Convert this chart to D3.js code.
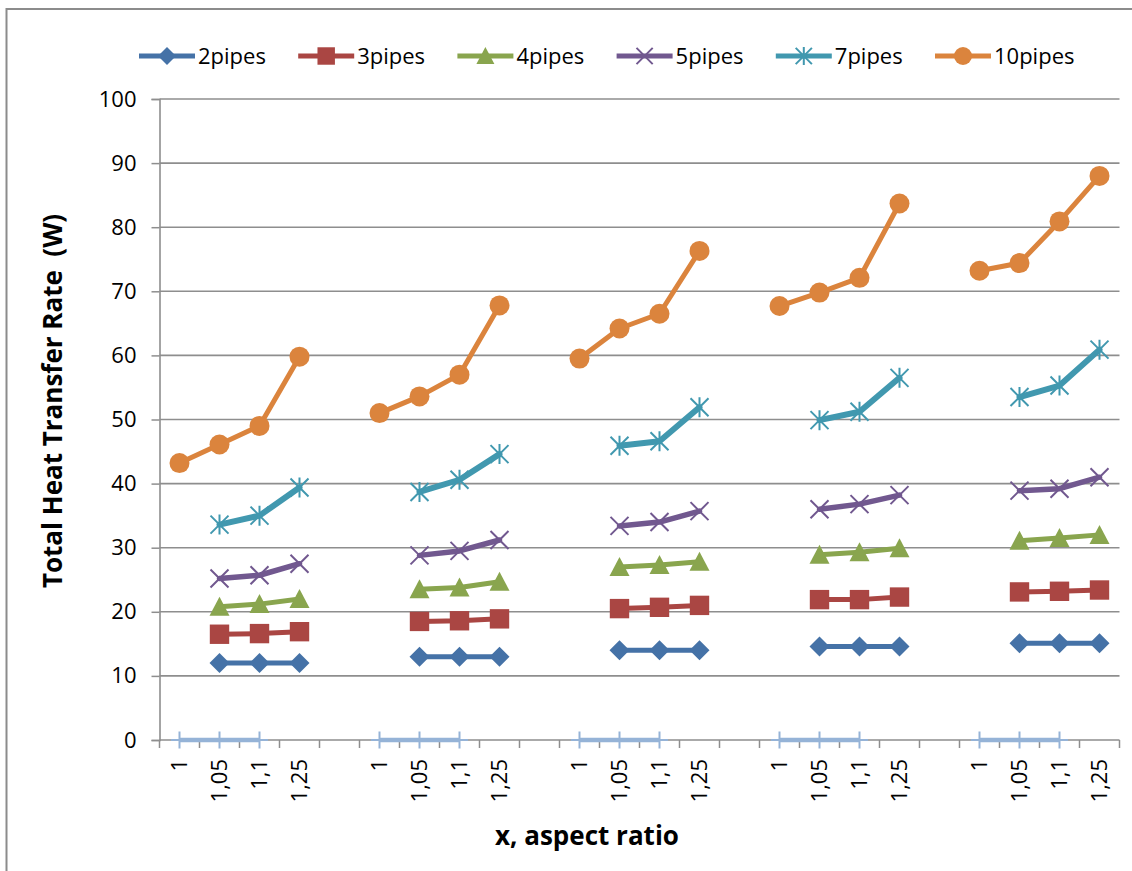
<!DOCTYPE html>
<html>
<head>
<meta charset="utf-8">
<script src="https://cdn.jsdelivr.net/npm/d3@7"></script>
<style>
  html, body { margin: 0; padding: 0; background: #fff; }
  svg { display: block; font-family: 'Open Sans', 'Noto Sans', sans-serif; }
</style>
</head>
<body>
<svg id="chart" width="1132" height="871"></svg>
<script>
// Category axis: five groups of aspect ratios separated by an empty slot
const categories = [
  "1", "1,05", "1,1", "1,25", "",
  "1", "1,05", "1,1", "1,25", "",
  "1", "1,05", "1,1", "1,25", "",
  "1", "1,05", "1,1", "1,25", "",
  "1", "1,05", "1,1", "1,25"
];

const seriesNames = ["2pipes", "3pipes", "4pipes", "5pipes", "7pipes", "10pipes"];

// Total heat transfer rate (W)
const pipes2 = [null, 12.0, 12.0, 12.0, null, null, 13.0, 13.0, 13.0, null, null, 14.0, 14.0, 14.0, null, null, 14.6, 14.6, 14.6, null, null, 15.1, 15.1, 15.1];
const pipes3 = [null, 16.5, 16.6, 16.9, null, null, 18.5, 18.6, 18.9, null, null, 20.5, 20.7, 21.0, null, null, 21.9, 21.9, 22.3, null, null, 23.1, 23.2, 23.4];
const pipes4 = [null, 20.8, 21.2, 22.0, null, null, 23.5, 23.8, 24.7, null, null, 27.0, 27.3, 27.8, null, null, 28.9, 29.3, 29.9, null, null, 31.1, 31.5, 32.0];
const pipes5 = [null, 25.2, 25.7, 27.5, null, null, 28.8, 29.5, 31.2, null, null, 33.4, 34.0, 35.7, null, null, 36.0, 36.8, 38.2, null, null, 38.9, 39.2, 41.0];
const pipes7 = [null, 33.6, 35.0, 39.4, null, null, 38.7, 40.6, 44.6, null, null, 45.9, 46.6, 51.9, null, null, 49.9, 51.2, 56.5, null, null, 53.5, 55.3, 60.9];
const pipes10 = [43.2, 46.1, 49.0, 59.8, null, 51.0, 53.6, 57.0, 67.8, null, 59.5, 64.2, 66.5, 76.3, null, 67.7, 69.8, 72.1, 83.7, null, 73.2, 74.4, 80.9, 88.0];
// Unnamed series sitting on the zero line
const extraSeries = [0, 0, 0, null, null, 0, 0, 0, null, null, 0, 0, 0, null, null, 0, 0, 0, null, null, 0, 0, 0, null];

const yTicks = [0, 10, 20, 30, 40, 50, 60, 70, 80, 90, 100];

const colors = ["#4572A7", "#AA4643", "#89A54E", "#71588F", "#4198AF", "#DB843D"];
const markerKinds = ["diamond", "square", "triangle", "x", "star", "circle"];
const lineWidths = [5, 5, 5, 5.5, 6, 5];

const svg = d3.select("#chart");
svg.append("rect").attr("width", 1132).attr("height", 871).attr("fill", "#fff");

// Outer chart frame
svg.append("rect")
  .attr("x", 6.5).attr("y", 9).attr("width", 1140).attr("height", 900)
  .attr("fill", "none").attr("stroke", "#8c8c8c").attr("stroke-width", 2);

const x = d3.scaleBand().domain(d3.range(categories.length)).range([159.5, 1119.5]);
const y = d3.scaleLinear().domain([0, 100]).range([740, 99]);
const cx = i => x(i) + x.bandwidth() / 2;

// Horizontal gridlines
svg.append("g").selectAll("line").data(yTicks.filter(v => v > 0)).join("line")
  .attr("x1", 159.5).attr("x2", 1119.5)
  .attr("y1", d => y(d)).attr("y2", d => y(d))
  .attr("stroke", "#8e8e8e").attr("stroke-width", 1.6);

// Value axis
const yAxis = svg.append("g").attr("transform", "translate(159.5,0)")
  .call(d3.axisLeft(y).tickValues(yTicks).tickSize(8).tickPadding(15).tickFormat(d3.format("d")));
yAxis.select(".domain").attr("stroke", "#8e8e8e").attr("stroke-width", 1.6);
yAxis.selectAll(".tick line").attr("stroke", "#8e8e8e").attr("stroke-width", 1.5);
yAxis.selectAll(".tick text").attr("font-size", 22).attr("fill", "#000")
  .attr("font-family", "'Open Sans', sans-serif");

// Category axis with ticks between categories
const xAxisG = svg.append("g");
xAxisG.append("line").attr("x1", 159.5).attr("x2", 1119.5).attr("y1", 740).attr("y2", 740)
  .attr("stroke", "#8e8e8e").attr("stroke-width", 1.6);
xAxisG.selectAll("line.tk").data(d3.range(categories.length + 1)).join("line")
  .attr("class", "tk")
  .attr("x1", i => 159.5 + i * x.bandwidth()).attr("x2", i => 159.5 + i * x.bandwidth())
  .attr("y1", 740).attr("y2", 748)
  .attr("stroke", "#8e8e8e").attr("stroke-width", 1.5);
xAxisG.selectAll("text").data(categories.map((c, i) => ({ c, i })).filter(d => d.c !== "")).join("text")
  .attr("transform", d => `translate(${cx(d.i)},759) rotate(-90)`)
  .attr("text-anchor", "end").attr("dy", "0.36em")
  .attr("font-size", 22).attr("fill", "#000")
  .text(d => d.c);

// Marker shapes centred on the origin
function markerPath(kind, s) {
  const h = 10 * s;
  switch (kind) {
    case "diamond": return `M0,${-h}L${h},0L0,${h}L${-h},0Z`;
    case "square": return `M${-h * 0.97},${-h * 0.97}h${2 * h * 0.97}v${2 * h * 0.97}h${-2 * h * 0.97}Z`;
    case "triangle": return `M0,${-h}L${h},${h * 0.9}L${-h},${h * 0.9}Z`;
    case "x": return `M${-h * 0.9},${-h * 0.9}L${h * 0.9},${h * 0.9}M${-h * 0.9},${h * 0.9}L${h * 0.9},${-h * 0.9}`;
    case "star": return `M${-h * 0.9},${-h * 0.9}L${h * 0.9},${h * 0.9}M${-h * 0.9},${h * 0.9}L${h * 0.9},${-h * 0.9}M0,${-h}V${h}`;
    case "plus": return `M0,${-h * 0.85}V${h * 0.85}M${-h * 0.85},0H${h * 0.85}`;
    default: return "";
  }
}

function drawMarker(g, kind, color, s) {
  if (kind === "circle") {
    g.append("circle").attr("r", 10 * s).attr("fill", color);
  } else if (kind === "x" || kind === "star" || kind === "plus") {
    g.append("path").attr("d", markerPath(kind, s)).attr("fill", "none")
      .attr("stroke", color).attr("stroke-width", 2);
  } else {
    g.append("path").attr("d", markerPath(kind, s)).attr("fill", color);
  }
}

const line = d3.line()
  .defined(d => d.v !== null)
  .x(d => cx(d.i))
  .y(d => y(d.v));

const allSeries = [pipes2, pipes3, pipes4, pipes5, pipes7, pipes10];
const plot = svg.append("g");

allSeries.forEach((vals, k) => {
  const pts = vals.map((v, i) => ({ v, i }));
  plot.append("path").datum(pts)
    .attr("d", line).attr("fill", "none")
    .attr("stroke", colors[k]).attr("stroke-width", lineWidths[k])
    .attr("stroke-linejoin", "round").attr("stroke-linecap", "round");
  pts.filter(d => d.v !== null).forEach(d => {
    const g = plot.append("g").attr("transform", `translate(${cx(d.i)},${y(d.v)})`);
    drawMarker(g, markerKinds[k], colors[k], 1);
  });
});

// Zero-line series
{
  const pts = extraSeries.map((v, i) => ({ v, i }));
  plot.append("path").datum(pts)
    .attr("d", line).attr("fill", "none")
    .attr("stroke", "#95B3D7").attr("stroke-width", 4.5);
  pts.filter(d => d.v !== null).forEach(d => {
    const g = plot.append("g").attr("transform", `translate(${cx(d.i)},${y(d.v)})`);
    drawMarker(g, "plus", "#95B3D7", 1);
  });
}

// Legend
const legend = svg.append("g");
seriesNames.forEach((name, k) => {
  const x0 = 139 + k * 159.2;
  const ly = 56;
  const g = legend.append("g");
  g.append("line").attr("x1", x0).attr("x2", x0 + 56).attr("y1", ly).attr("y2", ly)
    .attr("stroke", colors[k]).attr("stroke-width", 5);
  const m = g.append("g").attr("transform", `translate(${x0 + 28},${ly})`);
  drawMarker(m, markerKinds[k], colors[k], 0.9);
  g.append("text").attr("x", x0 + 59).attr("y", ly).attr("dy", "0.36em")
    .attr("font-size", 22).attr("fill", "#000").text(name);
});

// Axis titles
svg.append("text")
  .attr("transform", "translate(62,401) rotate(-90)")
  .attr("text-anchor", "middle")
  .attr("font-size", 26).attr("font-weight", "bold").attr("fill", "#000")
  .style("white-space", "pre")
  .text("Total Heat Transfer Rate  (W)");

svg.append("text")
  .attr("x", 587).attr("y", 845)
  .attr("text-anchor", "middle")
  .attr("font-size", 26).attr("font-weight", "bold").attr("fill", "#000")
  .text("x, aspect ratio");
</script>
</body>
</html>
